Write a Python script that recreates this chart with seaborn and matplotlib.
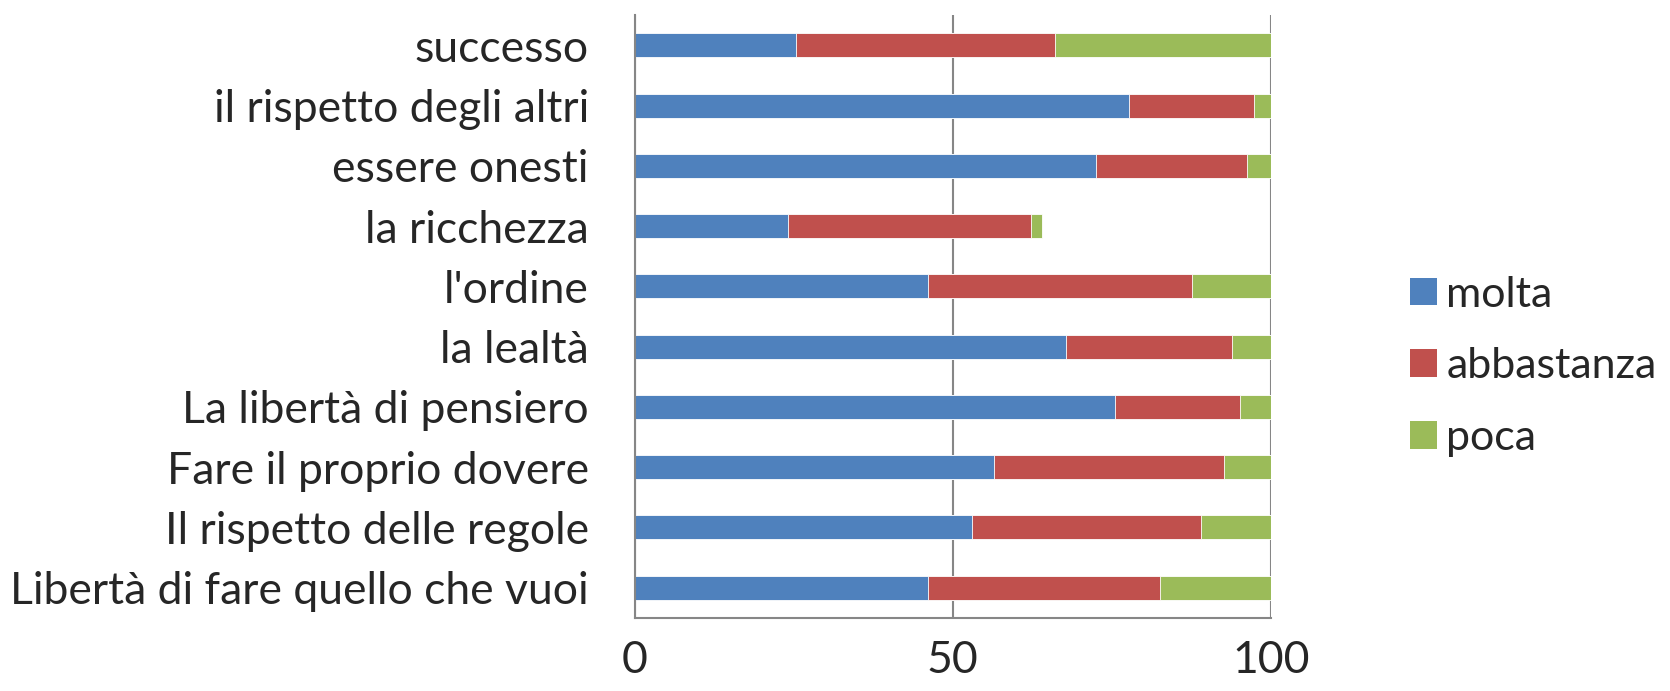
import numpy as np
import pandas as pd
import matplotlib
matplotlib.use("Agg")
import matplotlib.pyplot as plt
from matplotlib.patches import Patch
import seaborn as sns

# values (percent)
categories = [
    "successo",
    "il rispetto degli altri",
    "essere onesti",
    "la ricchezza",
    "l'ordine",
    "la lealtà",
    "La libertà di pensiero",
    "Fare il proprio dovere",
    "Il rispetto delle regole",
    "Libertà di fare quello che vuoi",
]
molta = [25.4, 77.7, 72.5, 24.1, 46.1, 67.8, 75.5, 56.5, 53.0, 46.1]
abbastanza = [40.6, 19.6, 23.7, 38.2, 41.5, 26.1, 19.7, 36.1, 36.0, 36.5]
poca = [34.0, 2.7, 3.8, 1.7, 12.4, 6.1, 4.8, 7.4, 11.0, 17.4]

series_names = ["molta", "abbastanza", "poca"]
colors = ["#4F81BD", "#C0504D", "#9BBB59"]
x_ticks = [0, 50, 100]

sns.set_style("white")
plt.rcParams["font.family"] = ["Lato", "DejaVu Sans"]

df = pd.DataFrame({"categoria": categories, "molta": molta,
                   "abbastanza": abbastanza, "poca": poca})
# cumulative ends so that overlaid bars look stacked
df["end_molta"] = df["molta"]
df["end_abbastanza"] = df["molta"] + df["abbastanza"]
df["end_poca"] = df["end_abbastanza"] + df["poca"]

fig = plt.figure(figsize=(16.7, 6.91), dpi=100)
ax = fig.add_axes([0.380, 0.106, 0.381, 0.872])

grey = "#868686"
fs = 32

# draw longest segment first, shorter ones on top
for name, col in zip(series_names[::-1], colors[::-1]):
    sns.barplot(data=df, x="end_" + name, y="categoria", order=categories,
                color=col, width=0.4, orient="h", ax=ax,
                edgecolor="white", linewidth=0.6, saturation=1)

ax.set_xlim(0, 100)
ax.set_ylim(len(categories) - 0.5, -0.5)
ax.set_xlabel("")
ax.set_ylabel("")
ax.set_xticks(x_ticks)
ax.set_xticklabels([str(t) for t in x_ticks], fontsize=fs)
ax.set_yticks(range(len(categories)))
ax.set_yticklabels(categories, fontsize=fs)
ax.set_yticks(np.arange(-0.5, len(categories), 1.0), minor=True)
ax.tick_params(axis="y", which="major", length=0, pad=33)
ax.tick_params(axis="y", which="minor", length=10, width=1.5, color=grey, direction="out")
ax.tick_params(axis="x", which="major", length=10, width=1.5, color=grey, direction="out", pad=6)

ax.xaxis.grid(True, color=grey, linewidth=1.5)
ax.yaxis.grid(False)
ax.set_axisbelow(True)
for side in ["top", "right"]:
    ax.spines[side].set_visible(False)
for side in ["left", "bottom"]:
    ax.spines[side].set_color(grey)
    ax.spines[side].set_linewidth(1.5)

handles = [Patch(facecolor=c, edgecolor="none") for c in colors]
fig.legend(handles, series_names, loc="center left", bbox_to_anchor=(0.834, 0.47),
           frameon=False, fontsize=31, handlelength=0.62, handleheight=0.62,
           handletextpad=0.22, labelspacing=0.78, borderaxespad=0)

fig.savefig("out.png", dpi=100)
